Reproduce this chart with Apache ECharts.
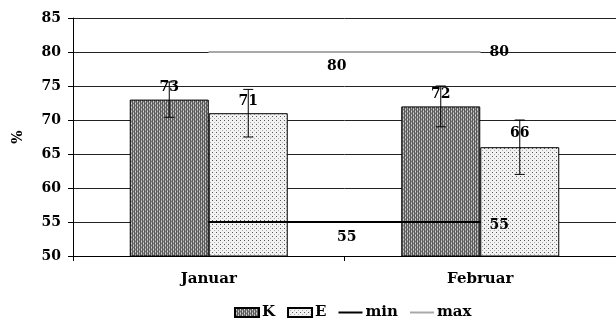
<!DOCTYPE html>
<html><head><meta charset="utf-8">
<script src="https://cdn.jsdelivr.net/npm/echarts@6/dist/echarts.min.js"></script>
<style>html,body{margin:0;padding:0;background:#fff}#c{width:616px;height:320px}</style>
</head><body><div id="c"></div>
<script>
const categories = ['Januar', 'Februar'];
const kValues = [73, 72];
const eValues = [71, 66];
const kErrLow = [70.4, 69];
const kErrHigh = [75.6, 75];
const eErrLow = [67.5, 62];
const eErrHigh = [74.5, 70];
const minValues = [55, 55];
const maxValues = [80, 80];
const yTicks = [50, 55, 60, 65, 70, 75, 80, 85];

const FONT = 'DejaVu Serif';

function makePattern(kind) {
  const c = document.createElement('canvas');
  c.width = 4; c.height = 4;
  const g = c.getContext('2d');
  if (kind === 'K') {
    g.fillStyle = '#a8a8a8'; g.fillRect(0, 0, 4, 4);
    g.fillStyle = '#5a5a5a';
    g.fillRect(0, 0, 1, 4); g.fillRect(2, 0, 1, 4);
    g.fillStyle = '#d8d8d8';
    g.fillRect(1, 1, 1, 1); g.fillRect(3, 3, 1, 1);
    g.fillStyle = '#777';
    g.fillRect(1, 3, 1, 1); g.fillRect(3, 1, 1, 1);
  } else {
    g.fillStyle = '#f2f2f2'; g.fillRect(0, 0, 4, 4);
    g.fillStyle = '#555';
    g.fillRect(0, 0, 1, 1);
    g.fillStyle = '#aaa';
    g.fillRect(2, 2, 1, 1);
  }
  return { image: c, repeat: 'repeat' };
}

const chart = echarts.init(document.getElementById('c'), null, { renderer: 'canvas' });

const BAR_W = 79;
function errSeries(low, high, side) {
  return {
    type: 'custom',
    z: 5,
    silent: true,
    data: categories.map((c, i) => [i, low[i], high[i]]),
    renderItem: function (params, api) {
      const i = api.value(0);
      const lo = api.coord([i, api.value(1)]);
      const hi = api.coord([i, api.value(2)]);
      const x = lo[0] + side * BAR_W / 2;
      const cap = 5;
      const st = { stroke: '#000', lineWidth: 1 };
      return {
        type: 'group',
        children: [
          { type: 'line', shape: { x1: x, y1: lo[1], x2: x, y2: hi[1] }, style: st },
          { type: 'line', shape: { x1: x - cap, y1: lo[1], x2: x + cap, y2: lo[1] }, style: st },
          { type: 'line', shape: { x1: x - cap, y1: hi[1], x2: x + cap, y2: hi[1] }, style: st }
        ]
      };
    }
  };
}

const labelStyle = { show: true, fontFamily: FONT, fontWeight: 'bold', fontSize: 14, color: '#000' };

const kLabelOffsets = [[0, 0], [0, 0]];
const eLabelOffsets = [[0, 0], [0, -2]];
const minLabelOffsets = [[138, 15], [19, 3]];
const maxLabelOffsets = [[128, 14], [19, 0]];

const LINE_ICON = 'path://M0,0L24,0L24,2L0,2Z';

const option = {
  animation: false,
  grid: { left: 73, top: 18, width: 554, height: 238 },
  legend: {
    top: 300,
    left: 229,
    itemWidth: 24,
    itemHeight: 9,
    itemGap: 12,
    textStyle: { fontFamily: FONT, fontWeight: 'bold', fontSize: 15, color: '#000', padding: [0, 0, 0, -2] },
    data: [
      { name: 'K', icon: 'rect' },
      { name: 'E', icon: 'rect' },
      { name: 'min', icon: LINE_ICON, itemStyle: { color: '#000', borderWidth: 0 } },
      { name: 'max', icon: LINE_ICON, itemStyle: { color: '#a8a8a8', borderWidth: 0 } }
    ]
  },
  xAxis: {
    type: 'category',
    data: categories,
    axisLine: { lineStyle: { color: '#000', width: 1 } },
    axisTick: { show: true, length: 5, lineStyle: { color: '#000' } },
    axisLabel: { fontFamily: FONT, fontWeight: 'bold', fontSize: 15, color: '#000', margin: 16 }
  },
  yAxis: {
    type: 'value',
    min: yTicks[0],
    max: yTicks[yTicks.length - 1],
    interval: 5,
    name: '%',
    nameLocation: 'middle',
    nameGap: 48,
    nameTextStyle: { fontFamily: FONT, fontWeight: 'bold', fontSize: 14, color: '#000' },
    axisLine: { show: true, lineStyle: { color: '#000', width: 1 } },
    axisTick: { show: true, length: 5, lineStyle: { color: '#000' } },
    axisLabel: { fontFamily: FONT, fontWeight: 'bold', fontSize: 14, color: '#000', margin: 12 },
    splitLine: { show: true, lineStyle: { color: '#222', width: 1 } }
  },
  series: [
    {
      name: 'K', type: 'bar', barWidth: BAR_W, barGap: '0%',
      itemStyle: { color: makePattern('K'), borderColor: '#000', borderWidth: 1 },
      label: Object.assign({}, labelStyle, { position: 'top' }),
      data: kValues.map((v, i) => ({ value: v, label: { offset: kLabelOffsets[i] } }))
    },
    {
      name: 'E', type: 'bar', barWidth: BAR_W, barGap: '0%',
      itemStyle: { color: makePattern('E'), borderColor: '#000', borderWidth: 1 },
      label: Object.assign({}, labelStyle, { position: 'top' }),
      data: eValues.map((v, i) => ({ value: v, label: { offset: eLabelOffsets[i] } }))
    },
    {
      name: 'min', type: 'line', symbol: 'circle', symbolSize: 1, z: 4,
      lineStyle: { color: '#000', width: 2 },
      itemStyle: { color: '#000' },
      label: Object.assign({}, labelStyle, { position: 'inside' }),
      data: minValues.map((v, i) => ({ value: v, label: { offset: minLabelOffsets[i] } }))
    },
    {
      name: 'max', type: 'line', symbol: 'circle', symbolSize: 1, z: 4,
      lineStyle: { color: '#a8a8a8', width: 2 },
      itemStyle: { color: '#a8a8a8' },
      label: Object.assign({}, labelStyle, { position: 'inside' }),
      data: maxValues.map((v, i) => ({ value: v, label: { offset: maxLabelOffsets[i] } }))
    },
    errSeries(kErrLow, kErrHigh, -1),
    errSeries(eErrLow, eErrHigh, 1)
  ]
};
chart.setOption(option);
</script>
</body></html>
